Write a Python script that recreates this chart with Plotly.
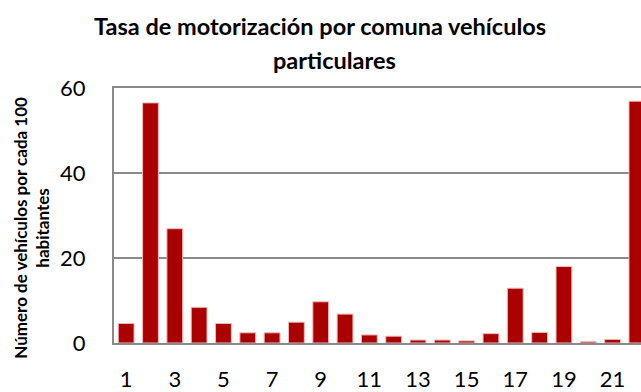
import plotly.graph_objects as go

# Motorisation rate per commune (private vehicles per 100 inhabitants)
comunas = list(range(1, 23))
tasa = [4.6, 56.5, 26.9, 8.4, 4.6, 2.4, 2.4, 4.9, 9.7, 6.8, 1.9,
        1.6, 0.7, 0.7, 0.5, 2.2, 12.9, 2.5, 18.0, 0.3, 0.85, 56.9]
tick_vals = list(range(1, 22, 2))
tick_text = [str(v) for v in tick_vals]

titulo_l1 = "Tasa de motorización por comuna vehículos"
titulo_l2 = "particulares"
titulo_y = "Número de vehículos por cada 100<br>habitantes"

FONT = "Lato, Carlito, Calibri, sans-serif"
GRID = "#8a8a8a"
W, H = 641, 392
L, R, T, B = 114, 0, 88, 45
PW, PH = W - L - R, H - T - B


def px_x(x):
    return (x - L) / PW


def px_y(y):
    return (H - B - y) / PH


fig = go.Figure(
    go.Bar(
        x=comunas,
        y=tasa,
        marker=dict(color="#AA0000", line=dict(color="#F2B8B8", width=1)),
        width=0.65,
    )
)

title_font = dict(size=23.5, family=FONT, color="black")

fig.update_layout(
    width=W,
    height=H,
    margin=dict(l=L, r=R, t=T, b=B),
    paper_bgcolor="white",
    plot_bgcolor="white",
    font=dict(family=FONT, color="black"),
    showlegend=False,
    annotations=[
        dict(text="<b>" + titulo_l1 + "</b>", xref="paper", yref="paper",
             x=px_x(320), y=px_y(25), showarrow=False, font=title_font,
             xanchor="center", yanchor="middle"),
        dict(text="<b>" + titulo_l2 + "</b>", xref="paper", yref="paper",
             x=px_x(334), y=px_y(60), showarrow=False, font=title_font,
             xanchor="center", yanchor="middle"),
        dict(
            text="<b>" + titulo_y + "</b>",
            xref="paper",
            yref="paper",
            x=px_x(32),
            y=px_y(230),
            showarrow=False,
            textangle=-90,
            font=dict(size=17, family=FONT),
            xanchor="center",
            yanchor="middle",
        ),
    ],
)

fig.update_xaxes(
    range=[0.5, 0.5 + PW / 24.32],
    tickmode="array",
    tickvals=tick_vals,
    ticktext=tick_text,
    tickfont=dict(size=22),
    ticks="",
    ticklabelstandoff=16,
    showgrid=False,
    showline=True,
    linecolor=GRID,
    linewidth=2,
    mirror=True,
    zeroline=False,
)

fig.update_yaxes(
    range=[0, 60],
    tickvals=[0, 20, 40, 60],
    tickfont=dict(size=22),
    ticks="",
    ticklabelstandoff=22,
    showgrid=True,
    gridcolor=GRID,
    gridwidth=2,
    showline=True,
    linecolor=GRID,
    linewidth=2,
    zeroline=False,
)

fig.write_html("out.html")
